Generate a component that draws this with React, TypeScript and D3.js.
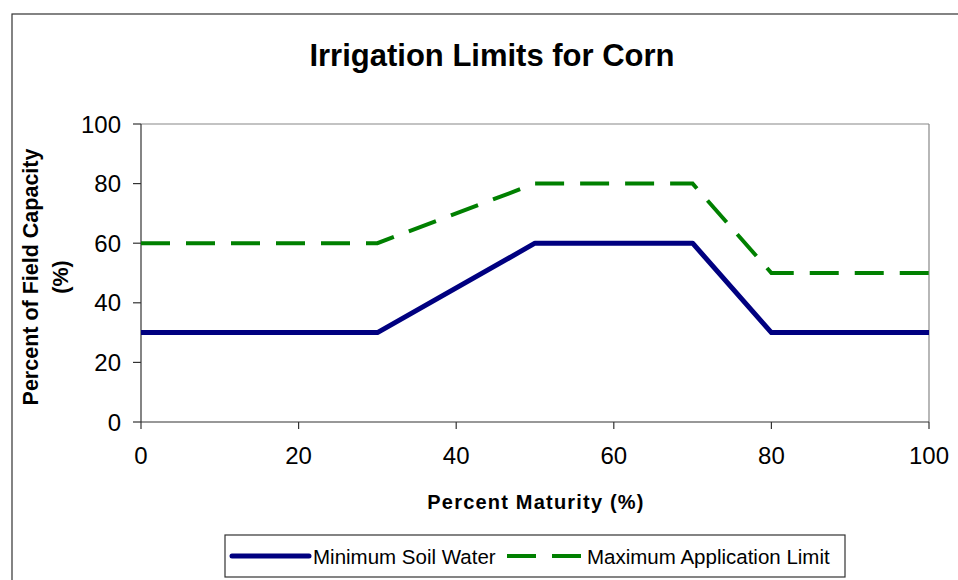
import React from "react";
import * as d3 from "d3";

const maturity = [0, 30, 50, 70, 80, 100];
const minSoilWater = [30, 30, 60, 60, 30, 30];
const maxLimitX = [0, 30, 50, 70, 80, 100];
const maxLimit = [60, 60, 80, 80, 50, 50];
const xTicks = [0, 20, 40, 60, 80, 100];
const yTicks = [0, 20, 40, 60, 80, 100];
const seriesNames = ["Minimum Soil Water", "Maximum Application Limit"];

export default function App() {
  const W = 958, H = 580;
  const left = 141, right = 929, top = 124, bottom = 422;
  const x = d3.scaleLinear().domain([0, 100]).range([left, right]);
  const y = d3.scaleLinear().domain([0, 100]).range([bottom, top]);
  const line = d3.line<[number, number]>().x(d => x(d[0])).y(d => y(d[1]));
  const minPts = maturity.map((m, i) => [m, minSoilWater[i]] as [number, number]);
  const maxPts = maxLimitX.map((m, i) => [m, maxLimit[i]] as [number, number]);
  const font = "Liberation Sans, Arial, sans-serif";
  return (
    <svg width={W} height={H} style={{ position: "absolute", left: 0, top: 0 }} fontFamily={font}>
      <rect x={0} y={0} width={W} height={H} fill="#fff" />
      <rect x={12} y={14} width={980} height={600} fill="none" stroke="#333" strokeWidth={1.2} />
      <text x={492} y={66} textAnchor="middle" fontSize={31} fontWeight="bold">Irrigation Limits for Corn</text>
      {/* plot border */}
      <line x1={left} y1={top} x2={right} y2={top} stroke="#888" strokeWidth={1.2} />
      <line x1={right} y1={top} x2={right} y2={bottom} stroke="#888" strokeWidth={1.2} />
      <line x1={left} y1={top} x2={left} y2={bottom} stroke="#333" strokeWidth={1.2} />
      <line x1={left} y1={bottom} x2={right} y2={bottom} stroke="#333" strokeWidth={1.2} />
      {yTicks.map(t => (
        <g key={"y" + t}>
          <line x1={left - 8} x2={left} y1={y(t)} y2={y(t)} stroke="#333" strokeWidth={1.2} />
          <text x={121} y={y(t) + 8.5} textAnchor="end" fontSize={24}>{t}</text>
        </g>
      ))}
      {xTicks.map(t => (
        <g key={"x" + t}>
          <line x1={x(t)} x2={x(t)} y1={bottom} y2={bottom + 7} stroke="#333" strokeWidth={1.2} />
          <text x={x(t)} y={464} textAnchor="middle" fontSize={24}>{t}</text>
        </g>
      ))}
      <text x={536} y={509} textAnchor="middle" fontSize={20} fontWeight="bold" letterSpacing={1.2}>Percent Maturity (%)</text>
      <g transform="translate(38,277) rotate(-90)">
        <text x={0} y={0} textAnchor="middle" fontSize={21.5} fontWeight="bold">Percent of Field Capacity</text>
        <text x={0} y={30} textAnchor="middle" fontSize={21.5} fontWeight="bold">(%)</text>
      </g>
      <path d={line(maxPts) || ""} fill="none" stroke="#008000" strokeWidth={4} strokeDasharray="29 16" />
      <path d={line(minPts) || ""} fill="none" stroke="#000080" strokeWidth={5} strokeLinejoin="round" />
      {/* legend */}
      <rect x={225} y={535} width={620} height={42} fill="#fff" stroke="#333" strokeWidth={1.2} />
      <line x1={232} x2={309} y1={556} y2={556} stroke="#000080" strokeWidth={5} strokeLinecap="round" />
      <text x={313} y={563.5} fontSize={20.5}>{seriesNames[0]}</text>
      <line x1={507} x2={582} y1={556} y2={556} stroke="#008000" strokeWidth={4} strokeDasharray="29 16" />
      <text x={587} y={563.5} fontSize={20.5}>{seriesNames[1]}</text>
    </svg>
  );
}
